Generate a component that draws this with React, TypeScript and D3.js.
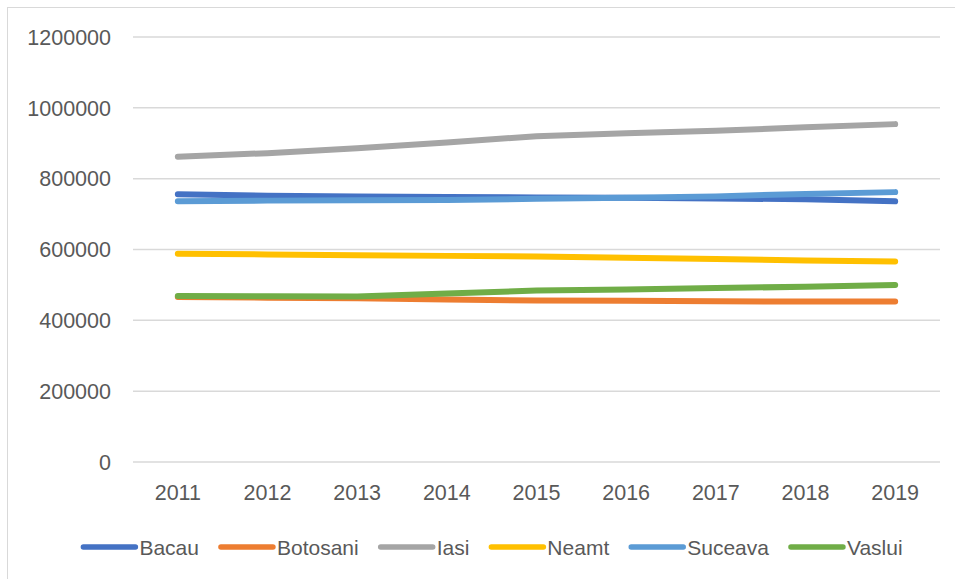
import React, { useEffect, useRef } from 'react';
import * as d3 from 'd3';

const years = ['2011', '2012', '2013', '2014', '2015', '2016', '2017', '2018', '2019'];
const bacau = [756000, 752000, 750000, 748000, 747000, 746000, 744000, 742000, 736000];
const botosani = [466000, 464000, 462000, 459000, 456000, 455000, 454000, 453000, 453000];
const iasi = [862000, 872000, 886000, 902000, 920000, 928000, 935000, 945000, 954000];
const neamt = [588000, 586000, 584000, 582000, 580000, 577000, 573000, 569000, 566000];
const suceava = [736000, 738000, 739000, 740000, 743000, 746000, 750000, 757000, 762000];
const vaslui = [469000, 468000, 467000, 476000, 484000, 487000, 491000, 495000, 500000];
const seriesNames = ['Bacau', 'Botosani', 'Iasi', 'Neamt', 'Suceava', 'Vaslui'];
const seriesColors = ['#4472C4', '#ED7D31', '#A5A5A5', '#FFC000', '#5B9BD5', '#70AD47'];
const yTicks = [0, 200000, 400000, 600000, 800000, 1000000, 1200000];

const W = 955;
const H = 579;
const FONT = "'Liberation Sans', Arial, sans-serif";

export default function App() {
  const ref = useRef<SVGSVGElement>(null);

  useEffect(() => {
    const svg = d3.select(ref.current);
    svg.selectAll('*').remove();
    const seriesValues = [bacau, botosani, iasi, neamt, suceava, vaslui];

    const x = d3.scaleBand().domain(years).range([133, 940]);
    const y = d3.scaleLinear().domain([0, 1200000]).range([462, 37]);
    const cx = (d: string) => (x(d) as number) + x.bandwidth() / 2;

    svg.append('rect').attr('x', 0).attr('y', 0).attr('width', W).attr('height', H).attr('fill', '#fff');
    // chart border (extends beyond visible area on right/bottom)
    svg.append('rect').attr('x', 7.5).attr('y', 7.5).attr('width', W + 20).attr('height', H + 20)
      .attr('fill', 'none').attr('stroke', '#d9d9d9').attr('stroke-width', 1);

    // gridlines
    svg.append('g').selectAll('line').data(yTicks).join('line')
      .attr('x1', 133).attr('x2', 940)
      .attr('y1', d => y(d)).attr('y2', d => y(d))
      .attr('stroke', '#d9d9d9').attr('stroke-width', 1.5);

    // y labels
    svg.append('g').selectAll('text').data(yTicks).join('text')
      .attr('x', 111).attr('y', d => y(d) + 7.7)
      .attr('text-anchor', 'end')
      .attr('font-family', FONT).attr('font-size', 21.5).attr('fill', '#595959')
      .text(d => String(d));

    // x labels
    svg.append('g').selectAll('text').data(years).join('text')
      .attr('x', d => cx(d)).attr('y', 500)
      .attr('text-anchor', 'middle')
      .attr('font-family', FONT).attr('font-size', 21.5).attr('fill', '#595959')
      .text(d => d);

    // lines
    const line = d3.line<number>().x((_, i) => cx(years[i])).y(d => y(d));
    seriesValues.forEach((vals, i) => {
      svg.append('path').datum(vals).attr('d', line)
        .attr('fill', 'none').attr('stroke', seriesColors[i]).attr('stroke-width', 6)
        .attr('stroke-linecap', 'round').attr('stroke-linejoin', 'round');
    });

    // legend
    const lg = svg.append('g');
    const items = seriesNames.map((name, i) => {
      const g = lg.append('g');
      g.append('line').attr('x1', 2).attr('x2', 54).attr('y1', 547).attr('y2', 547)
        .attr('stroke', seriesColors[i]).attr('stroke-width', 5.5).attr('stroke-linecap', 'round');
      const t = g.append('text').attr('x', 58).attr('y', 555)
        .attr('font-family', FONT).attr('font-size', 21).attr('fill', '#595959').text(name);
      const w = (t.node() as SVGTextElement).getComputedTextLength();
      return { g, w: 58 + w };
    });
    const gap = 20;
    const total = d3.sum(items, d => d.w) + gap * (items.length - 1);
    let pos = 492 - total / 2;
    items.forEach(it => {
      it.g.attr('transform', `translate(${pos},0)`);
      pos += it.w + gap;
    });
  }, []);

  return (
    <svg ref={ref} width={W} height={H} style={{ position: 'absolute', left: 0, top: 0, display: 'block' }} />
  );
}
